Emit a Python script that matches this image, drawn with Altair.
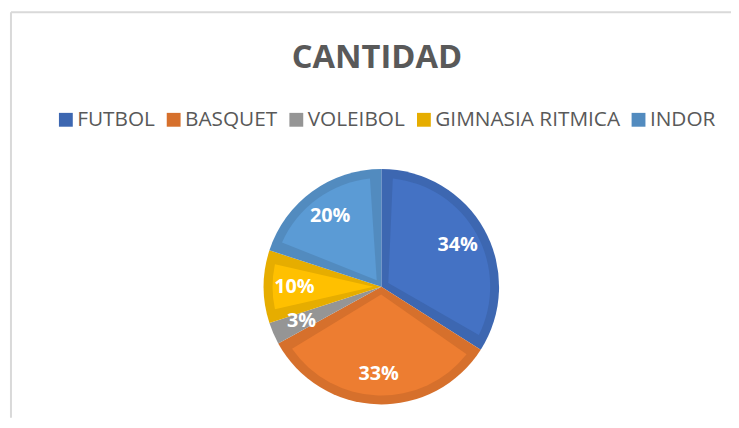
import altair as alt
import pandas as pd

deportes = ["FUTBOL", "BASQUET", "VOLEIBOL", "GIMNASIA RITMICA", "INDOR"]
cantidad = [34, 33, 3, 10, 20]
orden = [0, 1, 2, 3, 4]
colores = ["#4472C4", "#ED7D31", "#A5A5A5", "#FFC000", "#5B9BD5"]
bordes = ["#3D67B1", "#D6702C", "#959595", "#E6AD00", "#528BBF"]
titulo = ["CANTIDAD"]

df = pd.DataFrame({"deporte": deportes, "cantidad": cantidad, "orden": orden})

W, H = 728, 410
CX, CY = 374.5, 277.5
R = 119
B = 9

base = alt.Chart(df).encode(
    theta=alt.Theta("cantidad:Q", stack=True),
    order=alt.Order("orden:Q"),
    x=alt.value(CX),
    y=alt.value(CY),
)

outer = base.mark_arc(radius=R).encode(
    color=alt.Color(
        "deporte:N",
        scale=alt.Scale(domain=deportes, range=bordes),
        legend=alt.Legend(
            title=None,
            orient="none",
            legendX=45,
            legendY=98,
            direction="horizontal",
            columns=5,
            symbolType="square",
            symbolSize=196,
            symbolStrokeWidth=0,
            symbolOpacity=1,
            labelFont="Open Sans",
            labelFontSize=21,
            labelColor="#595959",
            labelOffset=1,
            columnPadding=8,
            labelLimit=400,
        ),
    )
)

inner = base.mark_arc(radius=R - B, radius2=8, padAngle=0.21).encode(
    color=alt.Color("deporte:N", scale=alt.Scale(domain=deportes, range=colores), legend=None)
)

labels = (
    base.transform_joinaggregate(total="sum(cantidad)")
    .transform_calculate(pct="datum.cantidad / datum.total")
    .mark_text(radius=88, font="Open Sans", fontSize=20, fontWeight="bold", color="white")
    .encode(text=alt.Text("pct:Q", format=".0%"))
)

title = alt.Chart(pd.DataFrame({"t": titulo})).mark_text(
    font="Open Sans", fontSize=33, fontWeight="bold", color="#595959",
    baseline="alphabetic", align="center"
).encode(x=alt.value(370), y=alt.value(56), text="t:N")

one = pd.DataFrame({"a": [0]})
top_line = alt.Chart(one).mark_rule(color="#d9d9d9", strokeWidth=2).encode(
    x=alt.value(0), x2=alt.value(W), y=alt.value(0)
)
left_line = alt.Chart(one).mark_rule(color="#d9d9d9", strokeWidth=2).encode(
    x=alt.value(0), y=alt.value(0), y2=alt.value(H)
)

chart = (
    alt.layer(top_line, left_line, outer, inner, labels, title)
    .resolve_scale(color="independent")
    .properties(
        width=W, height=H,
        padding={"left": 3, "top": 2, "right": 0, "bottom": 0},
        autosize=alt.AutoSizeParams(type="none"),
        background="white",
    )
    .configure_view(stroke=None)
)

chart.save("out.html", embed_options={"renderer": "svg", "actions": False})
